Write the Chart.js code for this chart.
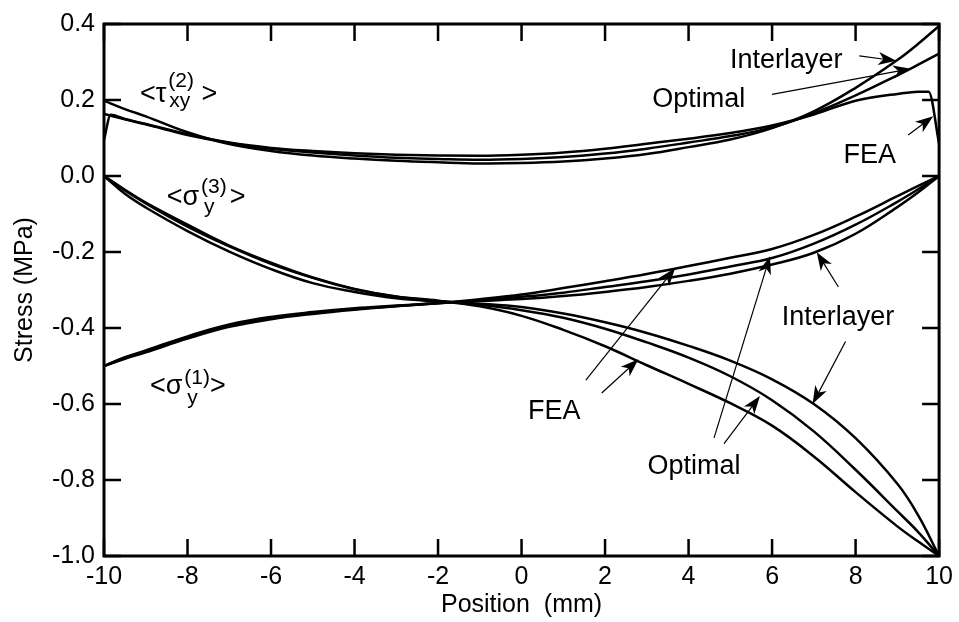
<!DOCTYPE html>
<html>
<head>
<meta charset="utf-8">
<title>Stress vs position</title>
<script src="https://cdn.jsdelivr.net/npm/chart.js@4.4.0/dist/chart.umd.min.js"></script>
<style>
  html, body { margin: 0; padding: 0; background: #fff; }
</style>
</head>
<body>
<canvas id="chart" width="959" height="622"></canvas>
<script>
// position along the joint (mm) for the analytical curves
var positions = [-10, -9.5, -9, -8, -7, -6, -5, -4, -3, -2, -1, 0, 1, 2, 3, 4, 5, 6, 7, 8, 9, 9.5, 10];

// shear stress tau_xy (2)
var tauInterlayer = [0.198, 0.176, 0.157, 0.115, 0.084, 0.066, 0.054, 0.046, 0.040, 0.036, 0.033, 0.034, 0.038, 0.046, 0.058, 0.076, 0.096, 0.126, 0.170, 0.232, 0.305, 0.348, 0.395];
var tauOptimal    = [0.163, 0.149, 0.136, 0.108, 0.087, 0.072, 0.062, 0.054, 0.048, 0.045, 0.043, 0.045, 0.050, 0.059, 0.072, 0.088, 0.105, 0.128, 0.165, 0.212, 0.265, 0.293, 0.322];

// peel stress sigma_y (3)
var sig3Interlayer = [0, -0.047, -0.083, -0.145, -0.199, -0.245, -0.282, -0.305, -0.322, -0.330, -0.336, -0.345, -0.362, -0.385, -0.413, -0.447, -0.486, -0.535, -0.600, -0.690, -0.810, -0.893, -1.0];
var sig3Optimal    = [0, -0.038, -0.072, -0.133, -0.185, -0.231, -0.268, -0.298, -0.318, -0.329, -0.339, -0.353, -0.373, -0.402, -0.438, -0.478, -0.527, -0.590, -0.672, -0.773, -0.882, -0.937, -1.0];
var sig3FEA        = [0, -0.036, -0.070, -0.128, -0.183, -0.228, -0.267, -0.297, -0.317, -0.328, -0.343, -0.368, -0.405, -0.448, -0.498, -0.547, -0.598, -0.657, -0.738, -0.832, -0.922, -0.962, -1.0];

// peel stress sigma_y (1)
var sig1Interlayer = [-0.5, -0.481, -0.464, -0.428, -0.397, -0.377, -0.363, -0.352, -0.343, -0.335, -0.329, -0.324, -0.316, -0.305, -0.292, -0.276, -0.257, -0.233, -0.202, -0.152, -0.082, -0.043, 0];
var sig1Optimal    = [-0.5, -0.479, -0.461, -0.425, -0.394, -0.374, -0.360, -0.350, -0.342, -0.335, -0.327, -0.318, -0.307, -0.292, -0.277, -0.259, -0.238, -0.216, -0.178, -0.128, -0.068, -0.035, 0];
var sig1FEA        = [-0.5, -0.477, -0.459, -0.422, -0.391, -0.371, -0.358, -0.348, -0.341, -0.334, -0.324, -0.312, -0.295, -0.277, -0.258, -0.237, -0.215, -0.192, -0.155, -0.107, -0.053, -0.026, 0];

// the FEA shear curve has its own sampling (edge spikes)
var fePositions = [-10, -9.84, -9.5, -9, -8, -7, -6, -5, -4, -3, -2, -1, 0, 1, 2, 3, 4, 5, 6, 7, 8, 9, 9.5, 9.75, 10];
var tauFEA      = [0.095, 0.161, 0.150, 0.137, 0.110, 0.088, 0.074, 0.066, 0.060, 0.056, 0.054, 0.053, 0.056, 0.062, 0.072, 0.085, 0.098, 0.113, 0.133, 0.162, 0.198, 0.216, 0.222, 0.222, 0.085];

// tick labels
var xTickValues = [-10, -8, -6, -4, -2, 0, 2, 4, 6, 8, 10];
var yTickValues = [-1.0, -0.8, -0.6, -0.4, -0.2, 0.0, 0.2, 0.4];

// annotations (data coordinates)
var notes = [
  { text: 'Interlayer', x: 4.99, y: 0.285 },
  { text: 'Optimal', x: 3.13, y: 0.181 },
  { text: 'FEA', x: 7.71, y: 0.0345 },
  { text: 'Interlayer', x: 6.23, y: -0.391 },
  { text: 'FEA', x: 0.155, y: -0.639 },
  { text: 'Optimal', x: 3.016, y: -0.783 }
];
var arrows = [
  [8.09, 0.316, 8.975, 0.303],
  [6.00, 0.215, 9.33, 0.2825],
  [9.26, 0.108, 9.86, 0.157],
  [7.59, -0.292, 7.07, -0.2005],
  [7.76, -0.4355, 6.97, -0.600],
  [1.54, -0.537, 3.68, -0.242],
  [1.92, -0.571, 2.80, -0.4825],
  [4.61, -0.689, 5.95, -0.211],
  [4.85, -0.704, 5.71, -0.579]
];
var stressLabels = [
  { main: '<τ', sup: '(2)', sub: 'xy', close: ' >', x: -9.14, y: 0.196, supDy: -15, subDy: 5, subDx: 1, gap: 0 },
  { main: '<σ', sup: '(3)', sub: 'y', close: '>', x: -8.50, y: -0.075, supDy: -12, subDy: 8, subDx: 3, gap: 3 },
  { main: '<σ', sup: '(1)', sub: 'y', close: '>', x: -8.90, y: -0.574, supDy: -10, subDy: 10, subDx: 3, gap: 0 }
];

var FONT = '"Liberation Sans", Arial, Helvetica, sans-serif';

function pts(xs, ys) {
  return xs.map(function (x, i) { return { x: x, y: ys[i] }; });
}

function line(data, mode) {
  return {
    data: data,
    borderColor: '#000',
    borderWidth: 2.5,
    pointRadius: 0,
    fill: false,
    tension: 0.4,
    cubicInterpolationMode: mode || 'default'
  };
}

// frame on all four sides with inward ticks
var frameTicks = {
  id: 'frameTicks',
  afterDatasetsDraw: function (chart) {
    var ctx = chart.ctx, a = chart.chartArea;
    var xs = chart.scales.x, ys = chart.scales.y;
    var len = 17;
    ctx.save();
    ctx.strokeStyle = '#000';
    ctx.lineWidth = 2.5;
    ctx.beginPath();
    xs.ticks.forEach(function (t) {
      var px = xs.getPixelForValue(t.value);
      ctx.moveTo(px, a.bottom); ctx.lineTo(px, a.bottom - len);
      ctx.moveTo(px, a.top); ctx.lineTo(px, a.top + len);
    });
    ys.ticks.forEach(function (t) {
      var py = ys.getPixelForValue(t.value);
      ctx.moveTo(a.left, py); ctx.lineTo(a.left + len, py);
      ctx.moveTo(a.right, py); ctx.lineTo(a.right - len, py);
    });
    ctx.stroke();
    ctx.lineWidth = 3;
    ctx.strokeRect(a.left, a.top, a.right - a.left, a.bottom - a.top);
    ctx.restore();
  }
};

function arrowHead(ctx, x0, y0, x1, y1) {
  var ang = Math.atan2(y1 - y0, x1 - x0);
  var L = 18, W = 6.5, N = 13;
  var c = Math.cos(ang), s = Math.sin(ang);
  ctx.beginPath();
  ctx.moveTo(x1, y1);
  ctx.lineTo(x1 - L * c + W * s, y1 - L * s - W * c);
  ctx.lineTo(x1 - N * c, y1 - N * s);
  ctx.lineTo(x1 - L * c - W * s, y1 - L * s + W * c);
  ctx.closePath();
  ctx.fill();
}

var annotate = {
  id: 'annotate',
  afterDatasetsDraw: function (chart) {
    var ctx = chart.ctx;
    var xs = chart.scales.x, ys = chart.scales.y;
    ctx.save();
    ctx.fillStyle = '#000';
    ctx.strokeStyle = '#000';
    ctx.textBaseline = 'alphabetic';
    ctx.textAlign = 'left';

    ctx.font = '27px ' + FONT;
    notes.forEach(function (n) {
      ctx.fillText(n.text, xs.getPixelForValue(n.x), ys.getPixelForValue(n.y));
    });

    ctx.lineWidth = 1.2;
    arrows.forEach(function (r) {
      var x0 = xs.getPixelForValue(r[0]), y0 = ys.getPixelForValue(r[1]);
      var x1 = xs.getPixelForValue(r[2]), y1 = ys.getPixelForValue(r[3]);
      var ang = Math.atan2(y1 - y0, x1 - x0);
      ctx.beginPath();
      ctx.moveTo(x0, y0);
      ctx.lineTo(x1 - 12 * Math.cos(ang), y1 - 12 * Math.sin(ang));
      ctx.stroke();
      arrowHead(ctx, x0, y0, x1, y1);
    });

    stressLabels.forEach(function (l) {
      var px = xs.getPixelForValue(l.x), py = ys.getPixelForValue(l.y);
      ctx.font = '27px ' + FONT;
      ctx.fillText(l.main, px, py);
      var x2 = px + ctx.measureText(l.main).width + 2;
      ctx.font = '21px ' + FONT;
      ctx.fillText(l.sup, x2, py + l.supDy);
      ctx.fillText(l.sub, x2 + l.subDx, py + l.subDy);
      var w = Math.max(ctx.measureText(l.sup).width, ctx.measureText(l.sub).width + l.subDx);
      ctx.font = '27px ' + FONT;
      ctx.fillText(l.close, x2 + w + l.gap, py);
    });
    ctx.restore();
  }
};

new Chart(document.getElementById('chart'), {
  type: 'line',
  data: {
    datasets: [
      line(pts(positions, tauInterlayer)),
      line(pts(positions, tauOptimal)),
      line(pts(fePositions, tauFEA), 'monotone'),
      line(pts(positions, sig3Interlayer)),
      line(pts(positions, sig3Optimal)),
      line(pts(positions, sig3FEA)),
      line(pts(positions, sig1Interlayer)),
      line(pts(positions, sig1Optimal)),
      line(pts(positions, sig1FEA))
    ]
  },
  options: {
    responsive: false,
    animation: false,
    devicePixelRatio: 1,
    layout: { padding: { top: 20, right: 16, left: 0, bottom: 0 } },
    plugins: {
      legend: { display: false },
      tooltip: { enabled: false }
    },
    scales: {
      x: {
        type: 'linear',
        min: -10, max: 10,
        grid: { display: false, drawTicks: false },
        border: { display: false },
        afterFit: function (s) { s.height = 66; },
        afterBuildTicks: function (s) { s.ticks = xTickValues.map(function (v) { return { value: v }; }); },
        ticks: {
          color: '#000',
          font: { family: FONT, size: 25 },
          padding: 6,
          maxRotation: 0,
          callback: function (v) { return String(v); }
        },
        title: {
          display: true,
          text: 'Position  (mm)',
          color: '#000',
          font: { family: FONT, size: 25 },
          padding: { top: 0, bottom: 2 }
        }
      },
      y: {
        min: -1.0, max: 0.4,
        grid: { display: false, drawTicks: false },
        border: { display: false },
        afterFit: function (s) { s.width = 104; },
        afterBuildTicks: function (s) { s.ticks = yTickValues.map(function (v) { return { value: v }; }); },
        ticks: {
          color: '#000',
          font: { family: FONT, size: 25 },
          padding: 9,
          callback: function (v) { return Math.abs(v) < 1e-9 ? '0.0' : Number(v).toFixed(1); }
        },
        title: {
          display: true,
          text: 'Stress (MPa)',
          color: '#000',
          font: { family: FONT, size: 25 },
          padding: { top: 10, bottom: 0 }
        }
      }
    }
  },
  plugins: [frameTicks, annotate]
});
</script>
</body>
</html>
